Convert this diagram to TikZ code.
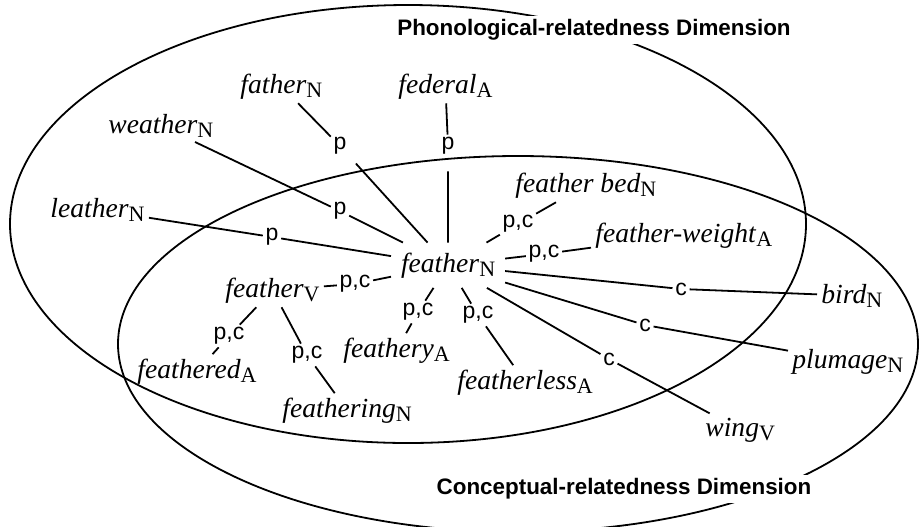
\documentclass[tikz,border=0pt]{standalone}
\usepackage{fontspec}
\setmainfont{Liberation Serif}
\setsansfont{Liberation Sans}
\usepackage{tikz}
\newcommand*{\lexw}[2]{\textit{#1}\raisebox{-2.3pt}{\fontsize{11}{11}\selectfont\upshape #2}}

\begin{document}
\begin{tikzpicture}[x=0.5pt, y=-0.5pt,
    word/.style      = {font=\fontsize{13.8}{16}\selectfont, inner sep=2pt, anchor=base west},
    rel/.style       = {font=\fontsize{11.5}{13}\selectfont\sffamily, inner sep=1.2pt},
    dimension/.style = {font=\fontsize{11.2}{13}\selectfont\sffamily\bfseries,
                        fill=white, inner sep=2pt},
    link/.style      = {line width=0.9pt},
  ]
  \useasboundingbox (0,0) rectangle (920,526);
  \draw[link] (408,224) ellipse [x radius=398, y radius=219];
  \draw[link] (518,344) ellipse [x radius=400, y radius=188];
  \node[dimension] (phon) at (594,30) {Phonological-relatedness Dimension};
  \node[dimension] (conc) at (624,489) {Conceptual-relatedness Dimension};

  \node[word] (father)      at (236,93)  {\lexw{father}{N}};
  \node[word] (federal)     at (394,93)  {\lexw{federal}{A}};
  \node[word] (weather)     at (104,133) {\lexw{weather}{N}};
  \node[word] (leather)     at (46,217)  {\lexw{leather}{N}};
  \node[word, outer sep=3pt] (featherN) at (391,272) {\lexw{feather}{N}};
  \node[word] (bed)         at (511,192) {\lexw{feather bed}{N}};
  \node[word] (weight)      at (591,242) {\lexw{feather-weight}{A}};
  \node[word] (bird)        at (817,303) {\lexw{bird}{N}};
  \node[word] (plumage)     at (788,368) {\lexw{plumage}{N}};
  \node[word] (wing)        at (701,436) {\lexw{wing}{V}};
  \node[word] (featherless) at (453,389) {\lexw{featherless}{A}};
  \node[word] (feathery)    at (339,357) {\lexw{feathery}{A}};
  \node[word] (featherV)    at (221,297) {\lexw{feather}{V}};
  \node[word] (feathered)   at (133,378) {\lexw{feathered}{A}};
  \node[word] (feathering)  at (278,417) {\lexw{feathering}{N}};

  \node[rel] (pFather)       at (340,146) {p};
  \node[rel] (pFederal)      at (448,146) {p};
  \node[rel] (pWeather)      at (340,211) {p};
  \node[rel] (pLeather)      at (272,237) {p};
  \node[rel] (pcBed)         at (518,224) {p,c};
  \node[rel] (pcWeight)      at (544,254) {p,c};
  \node[rel] (cBird)         at (681,289) {c};
  \node[rel] (cPlumage)      at (645,325) {c};
  \node[rel] (cWing)         at (609,359) {c};
  \node[rel] (pcFeatherless) at (478,315) {p,c};
  \node[rel] (pcFeathery)    at (418,312) {p,c};
  \node[rel] (pcFeatherV)    at (355,284) {p,c};
  \node[rel] (pcFeathered)   at (229,336) {p,c};
  \node[rel] (pcFeathering)  at (307,355) {p,c};

  \draw[link, shorten <=5pt] (father) -- (pFather) -- (featherN);
  \draw[link, shorten <=7pt] (federal) -- (pFederal) -- (featherN);
  \draw[link] (weather) -- (pWeather) -- (featherN);
  \draw[link] (leather) -- (pLeather) -- (featherN);
  \draw[link] (bed) -- (pcBed) -- (featherN);
  \draw[link] (weight) -- (pcWeight) -- (featherN);
  \draw[link] (bird) -- (cBird) -- (featherN);
  \draw[link] (plumage) -- (cPlumage) -- (featherN);
  \draw[link] (wing) -- (cWing) -- (featherN);
  \draw[link] (featherless) -- (pcFeatherless) -- (featherN);
  \draw[link] (feathery) -- (pcFeathery) -- (featherN);
  \draw[link] (featherV) -- (pcFeatherV) -- (featherN);
  \draw[link] (feathered) -- (pcFeathered) -- (featherV);
  \draw[link] (feathering) -- (pcFeathering) -- (featherV);
\end{tikzpicture}
\end{document}
